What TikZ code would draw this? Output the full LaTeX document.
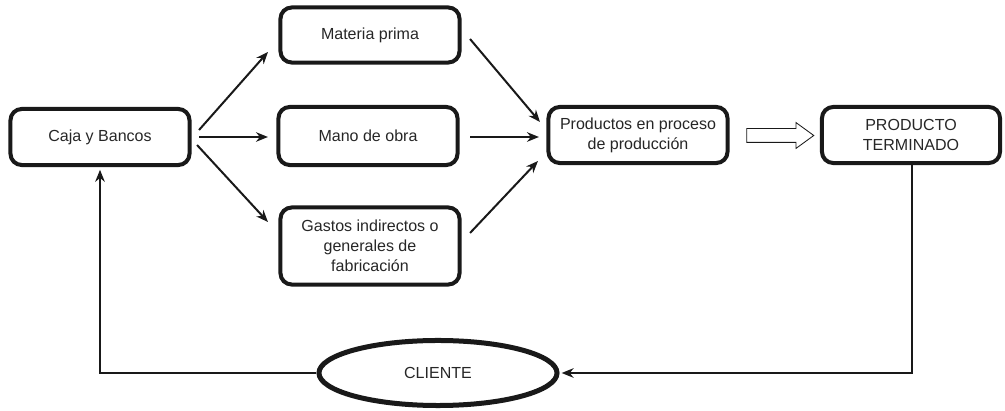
\documentclass[tikz,border=0pt]{standalone}
\usepackage{fontspec}
\setmainfont{Liberation Sans}
\usetikzlibrary{calc,shapes.geometric,shapes.arrows,arrows.meta}
\tikzset{>={Stealth[length=3mm,width=2.4mm]}}
\tikzset{
  caja/.style={draw=black!90,line width=0.1cm,rounded corners=0.28cm,align=center,
    minimum width=4.475cm,minimum height=1.4cm,inner sep=0pt,text=black!85},
  flecha/.style={->,line width=0.05cm,black!90},
  vuelta/.style={line width=0.05cm,black!90}
}

\begin{document}
\begin{tikzpicture}[x=0.025cm,y=-0.025cm,font=\fontsize{11.4}{14.2}\selectfont]
\useasboundingbox (0,0) rectangle (1005,411);
    \node[caja] (caja) at (100,137) {Caja y Bancos};
    \node[caja,minimum height=1.375cm] (mat) at (370,35) {Materia prima};
    \node[caja,minimum height=1.45cm] (mano) at (368,136) {Mano de obra};
    \node[caja,minimum height=1.925cm] (gastos) at (370,246) {Gastos indirectos o\\generales de\\fabricación};
    \node[caja] (proc) at (638,135) {Productos en proceso\\de producción};
    \node[caja,minimum width=4.45cm] (term) at (911,135) {PRODUCTO\\TERMINADO};
    \node[ellipse,draw=black!90,line width=0.125cm,minimum width=5.95cm,minimum height=1.625cm,inner sep=0pt,text=black!85] (cli) at (438,373) {CLIENTE};
    \node[single arrow,draw=black!90,line width=0.6pt,inner sep=0.1625cm,single arrow head extend=0.15cm,
      single arrow tip angle=72,minimum height=1.675cm] (paso) at (775.5,135.5) {};
    % de caja a los tres costos
    \draw[flecha] ($(caja.east)+(7.5,-7)$) -- ($(mat.west)+(-10.5,17)$);
    \draw[flecha] ($(caja.east)+(7.5,0)$) -- ($(caja.east -| mano.west)+(-8.5,0)$);
    \draw[flecha] ($(caja.east)+(5.5,8)$) -- ($(gastos.west)+(-10.5,-24)$);
    % de los costos al proceso
    \draw[flecha] ($(mat.east)+(8.5,4)$) -- ($(proc.west)+(-6.5,-13)$);
    \draw[flecha] ($(mano.east)+(10.5,1)$) -- ($(mano.east -| proc.west)+(-7.5,1)$);
    \draw[flecha] ($(gastos.east)+(8.5,-13)$) -- ($(proc.west)+(-8.5,26)$);
    % vuelta por el cliente
    \draw[vuelta,->] ([xshift=1]term.south) |- ([xshift=1.5]cli.east);
    \draw[vuelta,->,shorten >=2] (cli.west) -| (caja.south);
\end{tikzpicture}
\end{document}
